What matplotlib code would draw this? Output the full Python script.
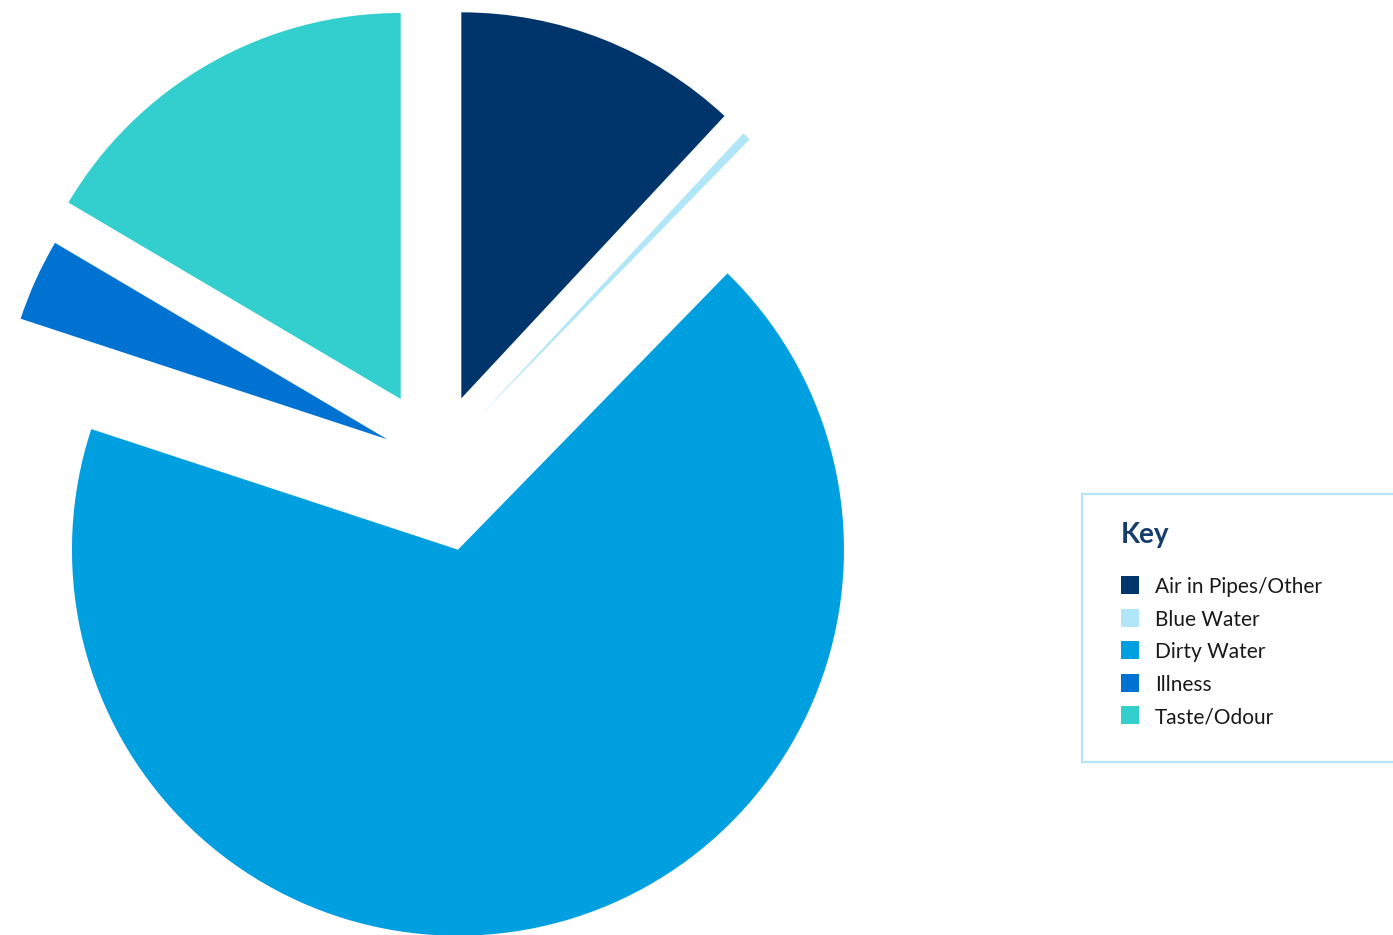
import matplotlib.pyplot as plt
from matplotlib.patches import Rectangle

# Complaint categories and their share of contacts (%)
categories = ['Air in Pipes/Other', 'Blue Water', 'Dirty Water', 'Illness', 'Taste/Odour']
shares = [11.94, 0.36, 67.75, 3.44, 16.5]
colours = ['#00356b', '#b0e6f8', '#009fe0', '#0072d2', '#33cfcf']

W, H = 1393, 935
fig = plt.figure(figsize=(W / 100, H / 100), dpi=100)
ax = fig.add_axes([0, 0, 1, 1])

# Work in pixel units so the pie and the key can be placed directly
# (pie's explode offset is in data units, not a fraction of the radius)
radius = 386
centre = (436.4, H - 461.6)
offsets = [68.0, 63.4, 90.7, 53.9, 72.1]
ax.pie(shares, colors=colours, startangle=90, counterclock=False,
       explode=offsets, radius=radius, center=centre,
       wedgeprops=dict(linewidth=0))

ax.set_xlim(0, W)
ax.set_ylim(0, H)
ax.set_aspect('equal')
ax.axis('off')

# Key box on the right
ax.add_patch(Rectangle((1082, H - 762), 400, 268, facecolor='white',
                       edgecolor='#b3e7f8', linewidth=1.6, clip_on=True))
ax.text(1121, H - 543.3, 'Key', fontsize=20, fontweight='bold', color='#173d6c',
        family='Lato', va='baseline', ha='left')
for i, (name, col) in enumerate(zip(categories, colours)):
    ax.add_patch(Rectangle((1121, H - (594 + 32.5 * i)), 18, 18,
                           facecolor=col, linewidth=0))
    ax.text(1155, H - (593.3 + 32.5 * i), name, fontsize=15, color='#1a1a1a',
            family='Lato', va='baseline', ha='left')

fig.savefig('out.png', dpi=100, facecolor='white')
